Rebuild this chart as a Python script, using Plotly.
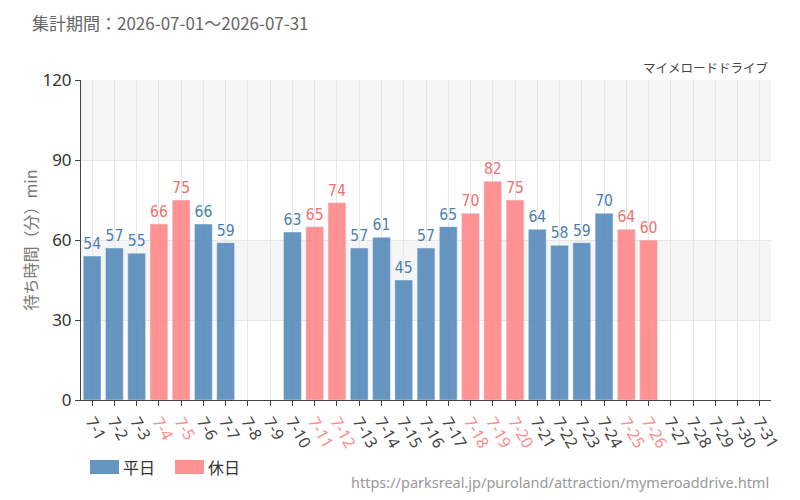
import plotly.graph_objects as go

days = [f"7-{d}" for d in range(1, 32)]
values = [54, 57, 55, 66, 75, 66, 59, None, None, 63, 65, 74, 57, 61, 45, 57, 65,
          70, 82, 75, 64, 58, 59, 70, 64, 60, None, None, None, None, None]
holidays = ["7-4", "7-5", "7-11", "7-12", "7-18", "7-19", "7-20", "7-25", "7-26"]

wk_x = [d for d, v in zip(days, values) if d not in holidays]
wk_y = [v for d, v in zip(days, values) if d not in holidays]
ho_x = [d for d, v in zip(days, values) if d in holidays]
ho_y = [v for d, v in zip(days, values) if d in holidays]

WK = "rgba(74,130,181,0.85)"
HO = "rgba(255,128,128,0.85)"
lab_font = "DejaVu Sans Condensed, Liberation Sans Narrow, sans-serif"

fig = go.Figure()
fig.add_trace(go.Bar(x=wk_x, y=wk_y, name="平日", marker_color=WK, width=0.8,
                     text=[("" if v is None else str(v)) for v in wk_y],
                     textposition="outside", cliponaxis=False,
                     textfont=dict(color="#4a7fb0", size=16, family=lab_font)))
fig.add_trace(go.Bar(x=ho_x, y=ho_y, name="休日", marker_color=HO, width=0.8,
                     text=[str(v) for v in ho_y],
                     textposition="outside", cliponaxis=False,
                     textfont=dict(color="#f07070", size=16, family=lab_font)))

ticktext = [f"<span style='color:#ff8a8a'>{d}</span>" if d in holidays else d for d in days]

for y0, y1 in [(90, 120), (30, 60)]:
    fig.add_shape(type="rect", xref="paper", yref="y", x0=0, x1=1, y0=y0, y1=y1,
                  fillcolor="#f5f5f5", line_width=0, layer="below")

fig.update_layout(
    width=800, height=500, plot_bgcolor="white", paper_bgcolor="white",
    margin=dict(l=81, r=29, t=80, b=100, autoexpand=False),
    barmode="overlay", bargap=0.2,
    font=dict(family="Noto Sans CJK JP, sans-serif", color="#444"),
    showlegend=False,
    xaxis=dict(categoryorder="array", categoryarray=days, tickmode="array",
               tickvals=days, ticktext=ticktext, tickangle=60, automargin=False,
               showgrid=True, gridcolor="#e6e6e6", showline=True, linecolor="#444",
               ticks="outside", ticklen=5, tickcolor="#444", range=[-0.5, 30.5],
               tickfont=dict(size=16, color="#444", family="Noto Sans, sans-serif")),
    yaxis=dict(range=[0, 120], tickvals=[0, 30, 60, 90, 120], showgrid=True, automargin=False,
               gridcolor="#e6e6e6", showline=True, linecolor="#444", ticks="outside",
               ticklen=5, tickcolor="#444", zeroline=False,
               tickfont=dict(size=17, color="#333", family="Noto Sans, sans-serif"),
               title=dict(text="待ち時間（分）min", font=dict(size=16, color="#777"), standoff=0)),
)

# custom legend
for i, (name, col) in enumerate([("平日", WK), ("休日", HO)]):
    x0 = 90 + i * 85
    fig.add_shape(type="rect", xref="paper", yref="paper",
                  x0=(x0 - 81) / 690, x1=(x0 + 29 - 81) / 690,
                  y0=(400 - 474) / 320, y1=(400 - 460) / 320,
                  fillcolor=col, line_width=0)
    fig.add_annotation(text=name, xref="paper", yref="paper",
                       x=(x0 + 31 - 81) / 690, y=(400 - 467) / 320,
                       xanchor="left", yanchor="middle", showarrow=False,
                       font=dict(size=16, color="#333"))

fig.add_annotation(text="集計期間：2026-07-01～2026-07-31", xref="paper", yref="paper",
                   x=(30 - 81) / 690, y=(400 - 22) / 320, xanchor="left", yanchor="middle",
                   showarrow=False, font=dict(size=17, color="#666"))
fig.add_annotation(text="マイメロードドライブ", xref="paper", yref="paper",
                   x=1, y=(400 - 68) / 320, xanchor="right", yanchor="middle",
                   showarrow=False, font=dict(size=12.5, color="#444"))
fig.add_annotation(text="https://parksreal.jp/puroland/attraction/mymeroaddrive.html",
                   xref="paper", yref="paper", x=1, y=(400 - 482) / 320,
                   xanchor="right", yanchor="middle", showarrow=False,
                   font=dict(size=14.5, color="#999", family="Noto Sans, sans-serif"))

fig.write_html("out.html")
